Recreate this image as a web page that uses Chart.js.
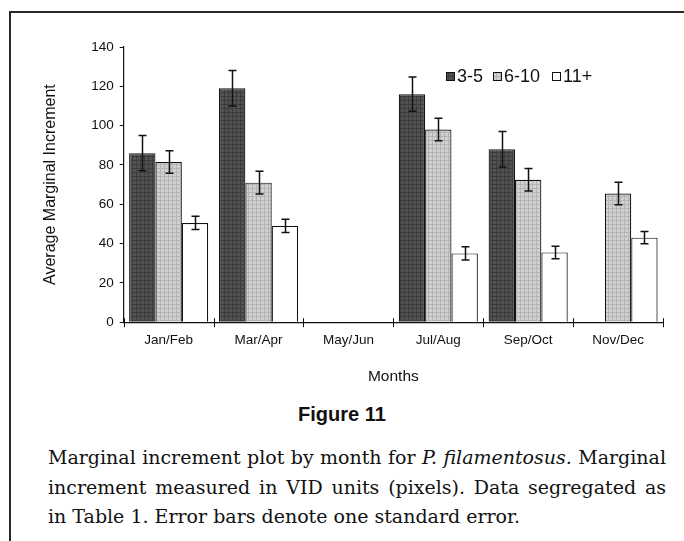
<!DOCTYPE html>
<html>
<head>
<meta charset="utf-8">
<script src="https://cdn.jsdelivr.net/npm/chart.js@4.4.1/dist/chart.umd.min.js"></script>
<style>
  html, body { margin: 0; padding: 0; background: #fff; }
  body { width: 684px; height: 541px; position: relative; overflow: hidden; }
  #frameTop { position: absolute; left: 9px; top: 11px; width: 675px; height: 2px; background: #2a2a2a; }
  #frameLeft { position: absolute; left: 9px; top: 11px; width: 2px; height: 530px; background: #2a2a2a; }
  #wrap { position: absolute; left: 0; top: 0; width: 684px; height: 400px; }
  #fig { position: absolute; left: 0; width: 684px; top: 403px; text-align: center;
         font: bold 20px "Liberation Sans", Arial, sans-serif; color: #111; }
  #caption { position: absolute; left: 48px; width: 618px; top: 443px;
             font: 19px "DejaVu Serif", serif; color: #111; line-height: 29.5px; }
  #caption div { white-space: nowrap; }
  #caption .j { text-align: justify; text-align-last: justify; }
</style>
</head>
<body>
<div id="frameTop"></div>
<div id="frameLeft"></div>
<div id="wrap"><canvas id="chart" width="684" height="400"></canvas></div>
<div id="fig">Figure 11</div>
<div id="caption">
  <div class="j">Marginal increment plot by month for <i>P. filamentosus.</i> Marginal</div>
  <div class="j">increment measured in VID units (pixels). Data segregated as</div>
  <div>in Table 1. Error bars denote one standard error.</div>
</div>
<script>
// Two-month sampling periods
const months = ["Jan/Feb", "Mar/Apr", "May/Jun", "Jul/Aug", "Sep/Oct", "Nov/Dec"];
const groups = ["3-5", "6-10", "11+"];

// Mean marginal increment per age group (null = no sample)
const mean35  = [86, 119, null, 116, 88, null];
const mean610 = [81.5, 71, null, 98, 72.5, 65.5];
const mean11  = [50.5, 49, null, 35, 35.5, 43];

// One standard error for each mean
const se35  = [9, 9, null, 8.7, 9, null];
const se610 = [5.7, 5.8, null, 5.7, 5.7, 5.7];
const se11  = [3.4, 3.4, null, 3.4, 3.2, 3.1];

const yTicks = [0, 20, 40, 60, 80, 100, 120, 140];

// Textured fills imitating screened print
function makePattern(base, line) {
  const c = document.createElement('canvas');
  c.width = 4; c.height = 4;
  const g = c.getContext('2d');
  g.fillStyle = base; g.fillRect(0, 0, 4, 4);
  g.fillStyle = line;
  g.fillRect(0, 0, 4, 1);
  g.fillRect(0, 0, 1, 4);
  return g.createPattern(c, 'repeat');
}
const ctx = document.getElementById('chart').getContext('2d');
const darkFill = makePattern('#525252', '#3c3c3c');
const lightFill = makePattern('#d0d0d0', '#b4b4b4');
const whiteFill = '#ffffff';

const fills = [darkFill, lightFill, whiteFill];
const errors = [se35, se610, se11];
const FONT = '"Liberation Sans", Arial, sans-serif';

const errorBars = {
  id: 'errorBars',
  afterDatasetsDraw(chart) {
    const c = chart.ctx, y = chart.scales.y;
    c.save();
    c.strokeStyle = '#111';
    c.lineWidth = 1.5;
    chart.data.datasets.forEach((ds, di) => {
      const meta = chart.getDatasetMeta(di);
      meta.data.forEach((bar, i) => {
        const v = ds.data[i], e = errors[di][i];
        if (v == null || e == null) return;
        const x = Math.round(bar.x) + 0.5;
        const yt = y.getPixelForValue(v + e), yb = y.getPixelForValue(v - e);
        c.beginPath();
        c.moveTo(x, yt); c.lineTo(x, yb);
        c.moveTo(x - 4, yt); c.lineTo(x + 4, yt);
        c.moveTo(x - 4, yb); c.lineTo(x + 4, yb);
        c.stroke();
      });
    });
    c.restore();
  }
};

// Category boundary ticks that cross the x axis
const xTicks = {
  id: 'xTicks',
  afterDraw(chart) {
    const c = chart.ctx, x = chart.scales.x, yA = chart.scales.y.getPixelForValue(0);
    c.save();
    c.strokeStyle = '#111';
    c.lineWidth = 1;
    for (let k = 0; k <= months.length; k++) {
      const px = Math.round(x.getPixelForValue(k - 0.5)) + 0.5;
      c.beginPath();
      c.moveTo(px, yA - 4); c.lineTo(px, yA + 5);
      c.stroke();
    }
    c.restore();
  }
};

// Legend inside the plot area
const legendX = [446, 493, 552];
const innerLegend = {
  id: 'innerLegend',
  afterDraw(chart) {
    const c = chart.ctx;
    c.save();
    c.font = '18px ' + FONT;
    c.textBaseline = 'middle';
    const ly = 76;
    chart.data.datasets.forEach((ds, di) => {
      const lx = legendX[di];
      c.fillStyle = fills[di];
      c.fillRect(lx, ly - 4, 9, 9);
      c.strokeStyle = '#111';
      c.lineWidth = 1;
      c.strokeRect(lx + 0.5, ly - 3.5, 8, 8);
      c.fillStyle = '#111';
      c.fillText(ds.label, lx + 11, ly + 1);
    });
    c.restore();
  }
};

new Chart(ctx, {
  type: 'bar',
  data: {
    labels: months,
    datasets: [
      { label: groups[0], data: mean35, backgroundColor: darkFill },
      { label: groups[1], data: mean610, backgroundColor: lightFill },
      { label: groups[2], data: mean11, backgroundColor: whiteFill }
    ].map(d => Object.assign(d, {
      borderColor: '#111', borderWidth: 1.2, borderSkipped: 'bottom',
      categoryPercentage: 0.88, barPercentage: 1.0
    }))
  },
  options: {
    responsive: false,
    animation: false,
    layout: { padding: { left: 11, top: 47, right: 21, bottom: 14 } },
    plugins: { legend: { display: false }, tooltip: { enabled: false } },
    scales: {
      x: {
        grid: { display: true, drawOnChartArea: false, drawTicks: false, offset: true },
        border: { color: '#111', width: 1.2 },
        ticks: { color: '#111', padding: 10, maxRotation: 0,
                 font: { family: FONT, size: 13.5 } },
        title: { display: true, text: 'Months', color: '#111', padding: { top: 9, bottom: 0 },
                 font: { family: FONT, size: 15.5 } }
      },
      y: {
        min: 0, max: 140,
        afterBuildTicks(scale) { scale.ticks = yTicks.map(v => ({ value: v })); },
        grid: { drawOnChartArea: false, tickLength: 4, color: '#111' },
        border: { color: '#111', width: 1.2 },
        ticks: { color: '#111', padding: 6,
                 font: { family: FONT, size: 13.5 } },
        title: { display: true, text: 'Average Marginal Increment', color: '#111',
                 padding: { top: 30, bottom: 25 },
                 font: { family: FONT, size: 16 } }
      }
    }
  },
  plugins: [errorBars, xTicks, innerLegend]
});
</script>
</body>
</html>
